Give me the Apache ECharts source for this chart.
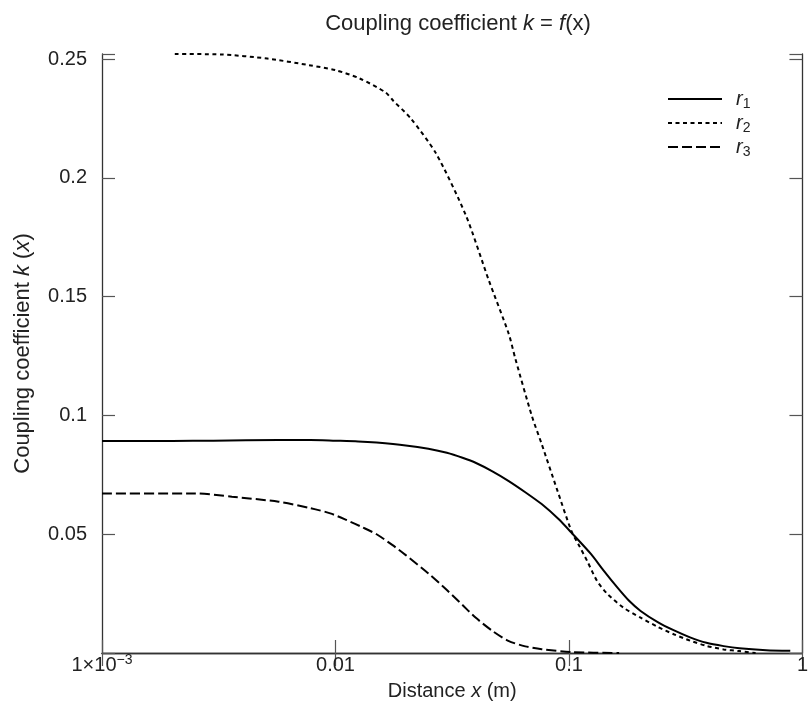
<!DOCTYPE html>
<html>
<head>
<meta charset="utf-8">
<script src="https://cdn.jsdelivr.net/npm/echarts@6/dist/echarts.min.js"></script>
<style>
html,body{margin:0;padding:0;background:#fff;}
#c{width:811px;height:722px;}
</style>
</head>
<body>
<div id="c"></div>
<script>
// ---- data ----
const r1X = [0.001, 0.002, 0.003, 0.0057, 0.0078, 0.01, 0.0125, 0.015, 0.02, 0.025, 0.03, 0.035, 0.04, 0.047, 0.055, 0.065, 0.0764, 0.09, 0.1024, 0.1244, 0.14, 0.1614, 0.18, 0.2027, 0.24, 0.2805, 0.33, 0.388, 0.46, 0.537, 0.7, 0.887];
const r1Y = [0.0893, 0.0893, 0.0894, 0.0897, 0.0897, 0.0894, 0.0891, 0.0886, 0.0874, 0.0860, 0.0843, 0.0822, 0.0800, 0.0765, 0.0725, 0.0677, 0.0627, 0.0565, 0.0507, 0.0416, 0.0350, 0.0275, 0.0222, 0.0177, 0.0130, 0.0096, 0.0066, 0.0043, 0.0029, 0.0020, 0.0012, 0.0009];

const r2X = [0.00205, 0.00324, 0.0051, 0.0077, 0.01, 0.0127, 0.0164, 0.01768, 0.021, 0.027, 0.0362, 0.0454, 0.0552, 0.0589, 0.0693, 0.0764, 0.0888, 0.1024, 0.11, 0.1196, 0.1318, 0.146, 0.171, 0.2027, 0.24, 0.281, 0.33, 0.388, 0.46, 0.537, 0.63];
const r2Y = [0.2522, 0.2520, 0.2503, 0.2475, 0.2454, 0.2419, 0.2360, 0.2325, 0.2251, 0.2102, 0.1842, 0.1568, 0.1344, 0.1240, 0.0999, 0.0880, 0.0690, 0.0514, 0.0456, 0.0388, 0.0304, 0.0249, 0.0191, 0.0149, 0.0110, 0.0079, 0.0052, 0.0030, 0.0015, 0.0008, 0.0];

const r3X = [0.001, 0.0025, 0.0036, 0.0057, 0.0078, 0.0095, 0.0112, 0.013, 0.015, 0.0175, 0.02, 0.025, 0.03, 0.035, 0.0398, 0.047, 0.055, 0.065, 0.0764, 0.1024, 0.164];
const r3Y = [0.0672, 0.0672, 0.0658, 0.0637, 0.0610, 0.0588, 0.0559, 0.0530, 0.0500, 0.0455, 0.0412, 0.0335, 0.0265, 0.0202, 0.0149, 0.0093, 0.0051, 0.0028, 0.0016, 0.0004, 0.0];

const seriesNames = ['r1', 'r2', 'r3'];
const legendSubs = ['1', '2', '3'];

const xTickValues = [0.001, 0.01, 0.1, 1];
const xTickLabels = ['1\u00d710{sup|\u22123}', '0.01', '0.1', '1'];
const yTickValues = [0.05, 0.1, 0.15, 0.2, 0.25];
const yTickLabels = ['0.05', '0.1', '0.15', '0.2', '0.25'];

const xMin = 0.001, xMax = 1, yMin = 0, yMax = 0.2522;

// ---- chart ----
const FONT = '"Liberation Sans", Arial, Helvetica, sans-serif';
const TXT = '#222';
const FS = 20;
const zip = (xs, ys) => xs.map((x, i) => [x, ys[i]]);

function xLabel(v) {
  for (let i = 0; i < xTickValues.length; i++) {
    if (Math.abs(v - xTickValues[i]) / xTickValues[i] < 1e-6) return xTickLabels[i];
  }
  return '';
}
function yLabel(v) {
  for (let i = 0; i < yTickValues.length; i++) {
    if (Math.abs(v - yTickValues[i]) < 1e-9) return yTickLabels[i];
  }
  return '';
}

const axisLineStyle = { color: '#333', width: 1.3 };
const tickStyle = { color: '#555', width: 1.2 };
const italic = { fontFamily: FONT, fontSize: FS, fontStyle: 'italic', color: TXT };

const chart = echarts.init(document.getElementById('c'), null, { renderer: 'canvas' });
chart.setOption({
  animation: false,
  backgroundColor: '#fff',
  title: {
    text: 'Coupling coefficient {i|k} = {i|f}(x)',
    left: 453,
    top: 8,
    textAlign: 'center',
    textStyle: {
      fontFamily: FONT, fontSize: 22, fontWeight: 'normal', color: TXT,
      rich: { i: { fontFamily: FONT, fontSize: 22, fontStyle: 'italic', color: TXT } }
    }
  },
  legend: {
    orient: 'vertical',
    left: 662,
    top: 84,
    itemWidth: 54,
    itemHeight: 14,
    itemGap: 2,
    data: seriesNames,
    itemStyle: { color: 'rgba(0,0,0,0)', borderWidth: 0, opacity: 0 },
    formatter: function (name) {
      const i = seriesNames.indexOf(name);
      return '{i|r}{s|' + legendSubs[i] + '}';
    },
    textStyle: {
      fontFamily: FONT, fontSize: FS, color: TXT, padding: [0, 0, 0, 9],
      rich: {
        i: { fontFamily: FONT, fontSize: FS, fontStyle: 'italic', color: TXT, lineHeight: 24 },
        s: { fontFamily: FONT, fontSize: 14, color: TXT, lineHeight: 16, verticalAlign: 'bottom' }
      }
    }
  },
  grid: { left: 102, right: 1, top: 54, bottom: 69, containLabel: false },
  xAxis: [
    {
      type: 'log', logBase: 10, min: xMin, max: xMax, position: 'bottom',
      name: 'Distance {i|x} (m)', nameLocation: 'middle', nameGap: 28,
      nameTextStyle: { fontFamily: FONT, fontSize: FS, color: TXT, rich: { i: italic } },
      axisLine: { show: true, lineStyle: axisLineStyle },
      axisTick: { show: true, inside: true, length: 13, lineStyle: tickStyle },
      minorTick: { show: false },
      splitLine: { show: false },
      axisLabel: {
        formatter: xLabel, fontFamily: FONT, fontSize: FS, color: TXT, margin: 2,
        showMinLabel: true, showMaxLabel: true, hideOverlap: false,
        rich: { sup: { fontFamily: FONT, fontSize: 14, color: TXT, lineHeight: 14, padding: [0, 0, 10, 0] } }
      }
    },
    {
      type: 'log', logBase: 10, min: xMin, max: xMax, position: 'top',
      axisLine: { show: true, lineStyle: axisLineStyle },
      axisTick: { show: true, inside: true, length: 13, lineStyle: tickStyle },
      splitLine: { show: false },
      axisLabel: { show: false }
    }
  ],
  yAxis: [
    {
      type: 'value', min: yMin, max: yMax, interval: 0.05, position: 'left',
      name: 'Coupling coefficient {i|k} ({i|x})', nameLocation: 'middle', nameGap: 68,
      nameRotate: 90,
      nameTextStyle: {
        fontFamily: FONT, fontSize: 22, color: TXT,
        rich: { i: { fontFamily: FONT, fontSize: 22, fontStyle: 'italic', color: TXT } }
      },
      axisLine: { show: true, lineStyle: axisLineStyle },
      axisTick: { show: true, inside: true, length: 13, lineStyle: tickStyle },
      splitLine: { show: false },
      axisLabel: { formatter: yLabel, fontFamily: FONT, fontSize: FS, color: TXT, margin: 15, showMinLabel: true, showMaxLabel: true }
    },
    {
      type: 'value', min: yMin, max: yMax, interval: 0.05, position: 'right',
      axisLine: { show: true, lineStyle: axisLineStyle },
      axisTick: { show: true, inside: true, length: 13, lineStyle: tickStyle },
      splitLine: { show: false },
      axisLabel: { show: false }
    }
  ],
  series: [
    {
      name: 'r1', type: 'line', xAxisIndex: 0, yAxisIndex: 0, symbol: 'none', smooth: 0.25, clip: false,
      lineStyle: { color: '#000', width: 2, type: 'solid' }, itemStyle: { color: '#000' },
      data: zip(r1X, r1Y)
    },
    {
      name: 'r2', type: 'line', xAxisIndex: 0, yAxisIndex: 0, symbol: 'none', smooth: 0.25, clip: false,
      lineStyle: { color: '#000', width: 2, type: [4, 3.5] }, itemStyle: { color: '#000' },
      data: zip(r2X, r2Y)
    },
    {
      name: 'r3', type: 'line', xAxisIndex: 0, yAxisIndex: 0, symbol: 'none', smooth: 0.25, clip: false,
      lineStyle: { color: '#000', width: 2, type: [10, 4] }, itemStyle: { color: '#000' },
      data: zip(r3X, r3Y)
    }
  ]
});
</script>
</body>
</html>
